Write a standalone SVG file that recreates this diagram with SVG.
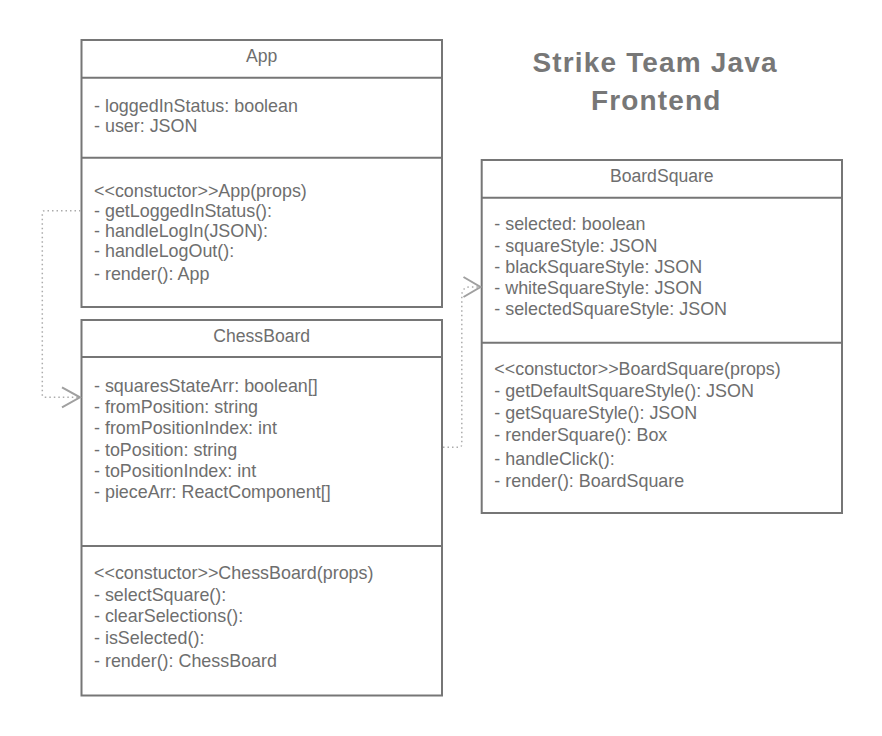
<svg xmlns="http://www.w3.org/2000/svg" width="882" height="736" viewBox="0 0 882 736">
<defs>
<style>
.box{fill:#ffffff;stroke:#767676;stroke-width:2}
.div{stroke:#767676;stroke-width:2;fill:none}
.t{font-family:"Liberation Sans",Arial,sans-serif;font-size:17.9px;fill:#6e6e6e}
.h{font-family:"Liberation Sans",Arial,sans-serif;font-size:17.6px;fill:#6e6e6e;text-anchor:middle}
.title{font-family:"Liberation Sans",Arial,sans-serif;font-size:28px;font-weight:bold;fill:#777777;letter-spacing:1.15px}
.conn{fill:none;stroke:#ababab;stroke-width:1.5;stroke-dasharray:1.5 3}
.arr{fill:none;stroke:#a0a0a0;stroke-width:2}
</style>
</defs>
<rect width="882" height="736" fill="#ffffff"/>
<g id="title">
<text class="title" x="532.5" y="71.5">Strike Team Java</text>
<text class="title" x="591" y="110">Frontend</text>
</g>
<g id="App">
<rect class="box" x="81.5" y="40" width="360.5" height="267"/>
<line class="div" x1="81.5" y1="77.7" x2="442" y2="77.7"/>
<line class="div" x1="81.5" y1="157.7" x2="442" y2="157.7"/>
<text class="h" x="261.7" y="62.3">App</text>
<text class="t" x="94" y="111.5">- loggedInStatus: boolean</text>
<text class="t" x="94" y="131.5">- user: JSON</text>
<text class="t" x="94" y="196.5">&lt;&lt;constuctor&gt;&gt;App(props)</text>
<text class="t" x="94" y="216.5">- getLoggedInStatus():</text>
<text class="t" x="94" y="236.5">- handleLogIn(JSON):</text>
<text class="t" x="94" y="256.5">- handleLogOut():</text>
<text class="t" x="94" y="280">- render(): App</text>
</g>
<g id="ChessBoard">
<rect class="box" x="81.5" y="320" width="360.5" height="375.5"/>
<line class="div" x1="81.5" y1="357" x2="442" y2="357"/>
<line class="div" x1="81.5" y1="546" x2="442" y2="546"/>
<text class="h" x="261.7" y="342.3">ChessBoard</text>
<text class="t" x="94" y="391.7">- squaresStateArr: boolean[]</text>
<text class="t" x="94" y="412.9">- fromPosition: string</text>
<text class="t" x="94" y="434.2">- fromPositionIndex: int</text>
<text class="t" x="94" y="455.6">- toPosition: string</text>
<text class="t" x="94" y="476.8">- toPositionIndex: int</text>
<text class="t" x="94" y="498">- pieceArr: ReactComponent[]</text>
<text class="t" x="94" y="579.3">&lt;&lt;constuctor&gt;&gt;ChessBoard(props)</text>
<text class="t" x="94" y="600.7">- selectSquare():</text>
<text class="t" x="94" y="622.3">- clearSelections():</text>
<text class="t" x="94" y="644">- isSelected():</text>
<text class="t" x="94" y="667.3">- render(): ChessBoard</text>
</g>
<g id="BoardSquare">
<rect class="box" x="481.7" y="160" width="360.3" height="353"/>
<line class="div" x1="481.7" y1="197.7" x2="842" y2="197.7"/>
<line class="div" x1="481.7" y1="342.7" x2="842" y2="342.7"/>
<text class="h" x="661.8" y="181.7">BoardSquare</text>
<text class="t" x="494.3" y="230">- selected: boolean</text>
<text class="t" x="494.3" y="251.5">- squareStyle: JSON</text>
<text class="t" x="494.3" y="272.7">- blackSquareStyle: JSON</text>
<text class="t" x="494.3" y="293.6">- whiteSquareStyle: JSON</text>
<text class="t" x="494.3" y="315">- selectedSquareStyle: JSON</text>
<text class="t" x="494.3" y="375">&lt;&lt;constuctor&gt;&gt;BoardSquare(props)</text>
<text class="t" x="494.3" y="397.3">- getDefaultSquareStyle(): JSON</text>
<text class="t" x="494.3" y="419">- getSquareStyle(): JSON</text>
<text class="t" x="494.3" y="440.7">- renderSquare(): Box</text>
<text class="t" x="494.3" y="465">- handleClick():</text>
<text class="t" x="494.3" y="486.7">- render(): BoardSquare</text>
</g>
<g id="connectors">
<path class="conn" d="M80.5,210.7 L45,210.7 Q42.3,210.7 42.3,213.5 L42.3,394.5 Q42.3,397.3 45,397.3 L79,397.3"/>
<polyline class="arr" points="62,387.3 80,397.3 62,407.3"/>
<path class="conn" d="M443,447.3 L458.5,447.3 Q461.8,447.3 461.8,444 L461.8,296 Q461.8,287 470,287 L479,287"/>
<polyline class="arr" points="463.5,277 480.5,287 463.5,297"/>
</g>
</svg>
